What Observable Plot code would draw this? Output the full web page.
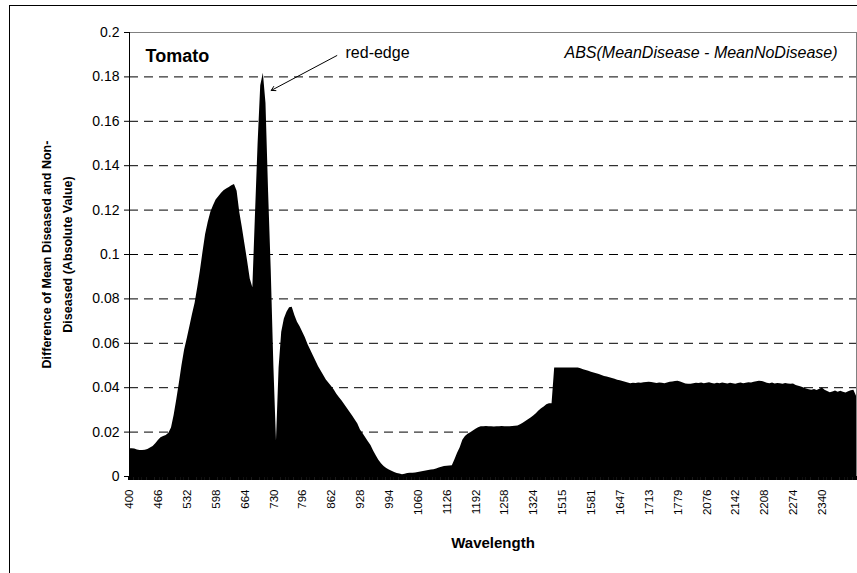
<!DOCTYPE html>
<html>
<head>
<meta charset="utf-8">
<script src="https://cdn.jsdelivr.net/npm/d3@7"></script>
<script src="https://cdn.jsdelivr.net/npm/@observablehq/plot@0.6"></script>
<style>
  html, body { margin: 0; padding: 0; background: #fff; }
  #wrap { position: relative; width: 857px; height: 573px; overflow: hidden; background: #fff; }
  #border { position: absolute; left: 9px; top: 5px; width: 900px; height: 620px; border: 1px solid #000; box-sizing: border-box; }
  #chart { position: absolute; left: 0; top: 0; }
</style>
</head>
<body>
<div id="wrap"><div id="border"></div><div id="chart"></div></div>
<script>
// Wavelength categories (nm), sampled every 6 nm within the retained bands
const wlSegments = [[400, 1360], [1491, 1809], [2046, 2418]];
const wlStep = 6;
const wavelengths = wlSegments.flatMap(([a, b]) => d3.range(a, b + 1, wlStep));

// ABS(MeanDisease - MeanNoDisease)
const values = [
  0.0125,0.0125,0.0124,0.0119,0.0117,0.0117,0.0118,0.0122,0.0128,0.0135,
  0.0147,0.0162,0.0175,0.0180,0.0185,0.0195,0.0218,0.0275,0.0345,0.0420,
  0.0500,0.0570,0.0620,0.0675,0.0730,0.0780,0.0850,0.0925,0.1010,0.1090,
  0.1145,0.1190,0.1220,0.1245,0.1260,0.1275,0.1287,0.1295,0.1302,0.1310,
  0.1315,0.1285,0.1190,0.1120,0.1045,0.0970,0.0890,0.0850,0.1180,0.1500,
  0.1760,0.1816,0.1680,0.1280,0.0930,0.0500,0.0160,0.0490,0.0650,0.0710,
  0.0740,0.0760,0.0762,0.0725,0.0695,0.0675,0.0650,0.0625,0.0595,0.0570,
  0.0545,0.0520,0.0495,0.0475,0.0455,0.0435,0.0420,0.0405,0.0390,0.0370,
  0.0355,0.0340,0.0323,0.0306,0.0289,0.0272,0.0255,0.0237,0.0210,0.0193,
  0.0175,0.0157,0.0140,0.0115,0.0093,0.0073,0.0057,0.0045,0.0036,0.0029,
  0.0024,0.0018,0.0014,0.0011,0.0008,0.0010,0.0014,0.0015,0.0015,0.0016,
  0.0018,0.0020,0.0023,0.0025,0.0027,0.0029,0.0030,0.0034,0.0038,0.0042,
  0.0045,0.0046,0.0047,0.0048,0.0075,0.0105,0.0130,0.0163,0.0180,0.0190,
  0.0197,0.0205,0.0213,0.0220,0.0224,0.0224,0.0225,0.0224,0.0224,0.0223,
  0.0224,0.0224,0.0225,0.0224,0.0224,0.0224,0.0225,0.0226,0.0228,0.0233,
  0.0240,0.0248,0.0256,0.0264,0.0272,0.0283,0.0295,0.0305,0.0313,0.0323,
  0.0328,
  0.0328,0.0489,0.0489,0.0489,0.0489,0.0489,0.0489,0.0489,0.0489,0.0489,
  0.0489,0.0485,0.0481,0.0478,0.0474,0.0470,0.0466,0.0463,0.0459,0.0455,
  0.0451,0.0448,0.0445,0.0442,0.0438,0.0434,0.0431,0.0428,0.0424,0.0421,
  0.0418,0.0420,0.0419,0.0421,0.0420,0.0422,0.0423,0.0424,0.0423,0.0421,
  0.0419,0.0421,0.0420,0.0418,0.0421,0.0424,0.0426,0.0428,0.0429,0.0426,
  0.0421,0.0417,0.0415,0.0416,
  0.0418,0.0420,0.0419,0.0421,0.0418,0.0420,
  0.0422,0.0419,0.0417,0.0420,0.0418,0.0421,0.0419,0.0417,0.0420,0.0418,
  0.0416,0.0419,0.0421,0.0418,0.0420,0.0422,0.0421,0.0424,0.0427,0.0429,
  0.0428,0.0425,0.0420,0.0418,0.0421,0.0417,0.0419,0.0418,0.0416,0.0419,
  0.0417,0.0415,0.0417,0.0410,0.0406,0.0403,0.0399,0.0394,0.0391,0.0389,
  0.0392,0.0387,0.0393,0.0399,0.0389,0.0383,0.0377,0.0381,0.0385,0.0380,
  0.0384,0.0379,0.0376,0.0382,0.0386,0.0388,0.0362
];

const xTickLabels = [400, 466, 532, 598, 664, 730, 796, 862, 928, 994, 1060, 1126, 1192,
  1258, 1324, 1515, 1581, 1647, 1713, 1779, 2076, 2142, 2208, 2274, 2340];
const yTicks = [0, 0.02, 0.04, 0.06, 0.08, 0.1, 0.12, 0.14, 0.16, 0.18, 0.2];

const yTitle = "Difference of Mean Diseased and Non-\nDiseased (Absolute Value)";
const xTitle = "Wavelength";
const plantLabel = "Tomato";
const formulaLabel = "ABS(MeanDisease - MeanNoDisease)";
const edgeLabel = "red-edge";
const edgeArrow = [{x1: 874, y1: 0.1896, x2: 724, y2: 0.1739}];

const data = wavelengths.map((w, i) => ({w, v: values[i]}));
const font = "'Liberation Sans', Arial, Helvetica, sans-serif";

const chart = Plot.plot({
  width: 857,
  height: 573,
  marginLeft: 129,
  marginRight: 1,
  marginTop: 32,
  marginBottom: 97,
  style: {background: "transparent", fontFamily: font, color: "#000", overflow: "visible"},
  x: {type: "point", domain: wavelengths, padding: 0},
  y: {domain: [0, 0.2]},
  marks: [
    Plot.ruleY(yTicks.slice(1), {stroke: "#000", strokeWidth: 1, strokeDasharray: "9,6"}),
    Plot.frame({stroke: "#808080"}),
    Plot.areaY(data, {x: "w", y: "v", fill: "#000", curve: "linear"}),
    Plot.ruleX([wavelengths[0]], {stroke: "#000"}),
    Plot.ruleY([0], {stroke: "#000"}),
    Plot.axisY({ticks: yTicks, tickSize: 5, tickPadding: 5, fontSize: 14, label: null,
      tickFormat: d => String(d)}),
    Plot.axisX({ticks: wavelengths, tickSize: 4, strokeWidth: 3, tickPadding: 9, fontSize: 11.5,
      tickRotate: -90, label: null,
      tickFormat: d => xTickLabels.includes(d) ? String(d) : ""}),
    Plot.text([yTitle], {text: d => d, frameAnchor: "left", dx: -74.5, rotate: -90,
      textAnchor: "middle", lineAnchor: "middle", lineHeight: 1.65, fontSize: 12.5, fontWeight: "bold"}),
    Plot.text([xTitle], {text: d => d, frameAnchor: "bottom", dy: 67, textAnchor: "middle",
      lineAnchor: "middle", fontSize: 15, fontWeight: "bold"}),
    Plot.text([plantLabel], {text: d => d, frameAnchor: "top-left", dx: 16, dy: 24,
      textAnchor: "start", lineAnchor: "middle", fontSize: 18, fontWeight: "bold"}),
    Plot.text([edgeLabel], {text: d => d, frameAnchor: "top-left", dx: 216, dy: 20,
      textAnchor: "start", lineAnchor: "middle", fontSize: 16}),
    Plot.text([formulaLabel], {text: d => d, frameAnchor: "top-right", dx: -19, dy: 20,
      textAnchor: "end", lineAnchor: "middle", fontSize: 16, fontStyle: "italic"}),
    Plot.arrow(edgeArrow, {x1: "x1", y1: "y1", x2: "x2", y2: "y2", stroke: "#000",
      strokeWidth: 1, headLength: 7})
  ]
});
document.getElementById("chart").appendChild(chart);
</script>
</body>
</html>
